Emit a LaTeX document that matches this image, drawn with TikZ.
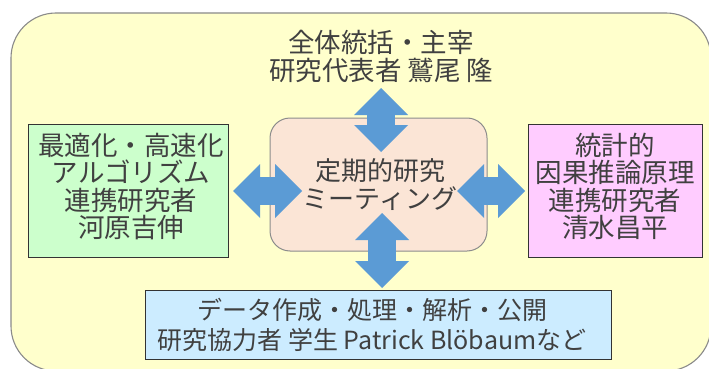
\documentclass[tikz,border=0pt]{standalone}
\usepackage{fontspec}
\setmainfont{Noto Sans CJK JP}
\usetikzlibrary{arrows.meta}
\definecolor{outerfill}{HTML}{FFFFCC}
\definecolor{outerline}{HTML}{8A8A8A}
\definecolor{meetfill}{HTML}{FBE5D6}
\definecolor{meetline}{HTML}{8C8C8C}
\definecolor{greenfill}{HTML}{CCFFCC}
\definecolor{pinkfill}{HTML}{FFCCFF}
\definecolor{bluefill}{HTML}{CCECFF}
\definecolor{boxline}{HTML}{333333}
\definecolor{arrowblue}{HTML}{5B9BD5}
\definecolor{txtcol}{HTML}{404040}
\tikzset{
  outerbox/.style={draw=outerline, line width=1.1pt, fill=outerfill, rounded corners=45pt, inner sep=0pt},
  meetbox/.style={draw=meetline, line width=1pt, fill=meetfill, rounded corners=20pt, inner sep=0pt},
  plainbox/.style={draw=boxline, line width=1pt, inner sep=0pt},
  txt/.style={text=txtcol, align=center, inner sep=0pt, font=\fontsize{26.5}{27.5}\selectfont},
  fat/.style={draw=arrowblue, line width=28pt,
    {Triangle[width=54pt,length=27pt,line width=0pt]}-{Triangle[width=54pt,length=27pt,line width=0pt]}},
}
\begin{document}
\begin{tikzpicture}[x=1pt,y=-1pt]
\useasboundingbox (0,0) rectangle (709,369);
\fill[white] (0,0) rectangle (709,369);
\node[outerbox, minimum width=700pt, minimum height=358pt] (outer) at (361,192) {};
\node[meetbox, minimum width=217pt, minimum height=133pt] (meet) at (378.5,184.5) {};
\node[plainbox, fill=greenfill, minimum width=200pt, minimum height=133pt] (left) at (128,190.5) {};
\node[plainbox, fill=pinkfill, minimum width=174pt, minimum height=133pt] (right) at (615,190.5) {};
\node[plainbox, fill=bluefill, minimum width=466pt, minimum height=69pt] (bottom) at (378,324.5) {};
\node[txt, font=\fontsize{26.5}{28}\selectfont] (toptext) at (381,56) {全体統括・主宰\\研究代表者 鷲尾 隆};
\node[txt, font=\fontsize{26}{28}\selectfont] (meettext) at (380,185) {定期的研究\\ミーティング};
\node[txt] (lefttext) at (131,186.5) {最適化・高速化\\アルゴリズム\\連携研究者\\河原吉伸};
\node[txt] (righttext) at (615,186.5) {統計的\\因果推論原理\\連携研究者\\清水昌平};
\node[txt, font=\fontsize{25}{30}\selectfont] (bottomtext) at (372,325) {データ作成・処理・解析・公開\\研究協力者 学生 Patrick Blöbaumなど};
\coordinate (ta) at (381,88);
\coordinate (tb) at (381,152);
\coordinate (la) at (233,191);
\coordinate (lb) at (302,191);
\coordinate (ra) at (457,191);
\coordinate (rb) at (525,191);
\coordinate (ba) at (382,213);
\coordinate (bb) at (382,288);
\draw[fat] (ta) -- (tb);
\draw[fat] (la) -- (lb);
\draw[fat] (ra) -- (rb);
\draw[fat] (ba) -- (bb);
\end{tikzpicture}
\end{document}
